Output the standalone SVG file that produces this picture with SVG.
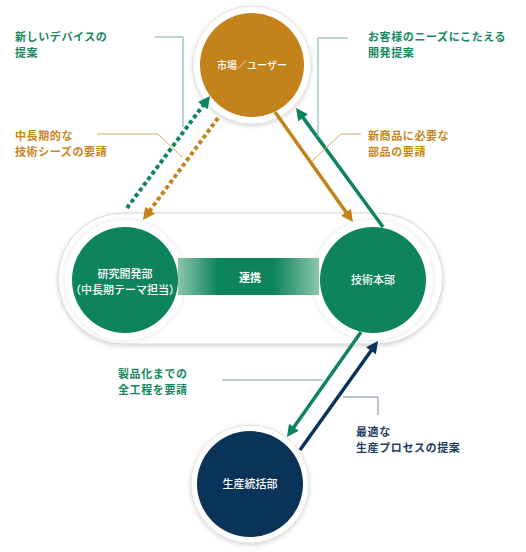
<svg xmlns="http://www.w3.org/2000/svg" width="526" height="552" viewBox="0 0 526 552">
<defs>
<style>
.lbl{font-family:"Noto Sans CJK JP","Noto Sans",sans-serif;font-size:11px;letter-spacing:0.6px;font-weight:bold}
.g{fill:#17875d}.o{fill:#c8861c}.n{fill:#1d3c60}
.nt{font-family:"Noto Sans CJK JP","Noto Sans",sans-serif;font-size:11px;font-weight:500;fill:#fff;text-anchor:middle}
.lead{fill:none;stroke-width:1}
.ring{fill:#fff;stroke:#e2e2e2;stroke-width:1}
</style>
<filter id="sh" x="-20%" y="-20%" width="140%" height="140%">
<feDropShadow dx="0" dy="1.5" stdDeviation="2" flood-color="#000" flood-opacity="0.18"/>
</filter>
<filter id="sh2" x="-20%" y="-20%" width="140%" height="140%">
<feDropShadow dx="0" dy="0" stdDeviation="2.5" flood-color="#000" flood-opacity="0.12"/>
</filter>
<linearGradient id="band" x1="0" y1="0" x2="1" y2="0">
<stop offset="0" stop-color="#8cc6ad"/>
<stop offset="0.28" stop-color="#0e845c"/>
<stop offset="0.68" stop-color="#0e845c"/>
<stop offset="1" stop-color="#8cc6ad"/>
</linearGradient>
<marker id="aG" markerUnits="userSpaceOnUse" markerWidth="14" markerHeight="14" viewBox="0 -7 13 14" refX="1" refY="0" orient="auto"><path d="M0,-6 L12,0 L0,6 z" fill="#0e845c"/></marker>
<marker id="aO" markerUnits="userSpaceOnUse" markerWidth="14" markerHeight="14" viewBox="0 -7 13 14" refX="1" refY="0" orient="auto"><path d="M0,-6 L12,0 L0,6 z" fill="#c4821a"/></marker>
<marker id="aN" markerUnits="userSpaceOnUse" markerWidth="14" markerHeight="14" viewBox="0 -7 13 14" refX="1" refY="0" orient="auto"><path d="M0,-6 L12,0 L0,6 z" fill="#0a335a"/></marker>
</defs>
<rect width="526" height="552" fill="#fff"/>

<g id="capsule">
<rect x="58" y="213" width="385" height="131" rx="65.5" fill="#fff" stroke="#d6d6d6" stroke-width="1" filter="url(#sh)"/>
</g>

<g id="node-market">
<circle cx="252" cy="65" r="59" class="ring" filter="url(#sh)"/>
<circle cx="252" cy="65" r="52" fill="#c4821a"/>
<text x="252" y="69" class="nt" style="font-size:10px">市場／ユーザー</text>
</g>

<g id="node-rd">
<circle cx="125" cy="280" r="60" fill="#fff" filter="url(#sh2)"/>
<circle cx="125" cy="280" r="53" fill="#0e845c"/>
<text class="nt"><tspan x="125" y="278">研究開発部</tspan><tspan x="125" y="294">（中長期テーマ担当）</tspan></text>
</g>

<g id="node-tech">
<circle cx="373" cy="280" r="60" fill="#fff" filter="url(#sh2)"/>
<circle cx="373" cy="280" r="53" fill="#0e845c"/>
<text x="373" y="284" class="nt">技術本部</text>
</g>

<g id="node-prod">
<circle cx="250" cy="484" r="59" class="ring" filter="url(#sh)"/>
<circle cx="250" cy="484" r="53" fill="#0a335a"/>
<text x="250" y="488" class="nt">生産統括部</text>
</g>

<g id="link-band">
<rect x="178" y="258" width="141" height="37" fill="url(#band)"/>
<text x="250" y="282" class="nt" style="font-weight:bold">連携</text>
</g>

<g id="connectors">
<line x1="127" y1="208" x2="203.5" y2="104.8" stroke="#0e845c" stroke-width="4" stroke-dasharray="4 3" marker-end="url(#aG)"/>
<line x1="218" y1="118" x2="149.5" y2="211.1" stroke="#c4821a" stroke-width="4" stroke-dasharray="4 3" marker-end="url(#aO)"/>
<line x1="275" y1="112" x2="346.6" y2="213" stroke="#c4821a" stroke-width="3.5" marker-end="url(#aO)"/>
<line x1="383" y1="227" x2="302.5" y2="116.9" stroke="#0e845c" stroke-width="3.5" marker-end="url(#aG)"/>
<line x1="361" y1="332" x2="293.3" y2="428" stroke="#0e845c" stroke-width="3.5" marker-end="url(#aG)"/>
<line x1="300" y1="450" x2="371.6" y2="349.9" stroke="#0a335a" stroke-width="3.5" marker-end="url(#aN)"/>
</g>

<g id="leaders">
<polyline class="lead" stroke="#7aae97" points="155,37 183,37 183,127"/>
<polyline class="lead" stroke="#d2a968" points="97,134 158,134 182,157"/>
<polyline class="lead" stroke="#7aae97" points="348,38 318,38 318,137"/>
<polyline class="lead" stroke="#d2a968" points="361,134 341,134 312,161"/>
<line class="lead" stroke="#7aae97" x1="222" y1="380" x2="323" y2="380"/>
<polyline class="lead" stroke="#7a8ca0" points="343,397 378,397 378,415"/>
</g>

<g id="labels">
<text class="lbl g"><tspan x="15" y="41">新しいデバイスの</tspan><tspan x="15" y="57">提案</tspan></text>
<text class="lbl o"><tspan x="15" y="140">中長期的な</tspan><tspan x="15" y="156">技術シーズの要請</tspan></text>
<text class="lbl g"><tspan x="368" y="41">お客様のニーズにこたえる</tspan><tspan x="368" y="57">開発提案</tspan></text>
<text class="lbl o"><tspan x="368" y="140">新商品に必要な</tspan><tspan x="368" y="156">部品の要請</tspan></text>
<text class="lbl g"><tspan x="118" y="378">製品化までの</tspan><tspan x="118" y="394">全工程を要請</tspan></text>
<text class="lbl n"><tspan x="356" y="436">最適な</tspan><tspan x="356" y="452">生産プロセスの提案</tspan></text>
</g>
</svg>
